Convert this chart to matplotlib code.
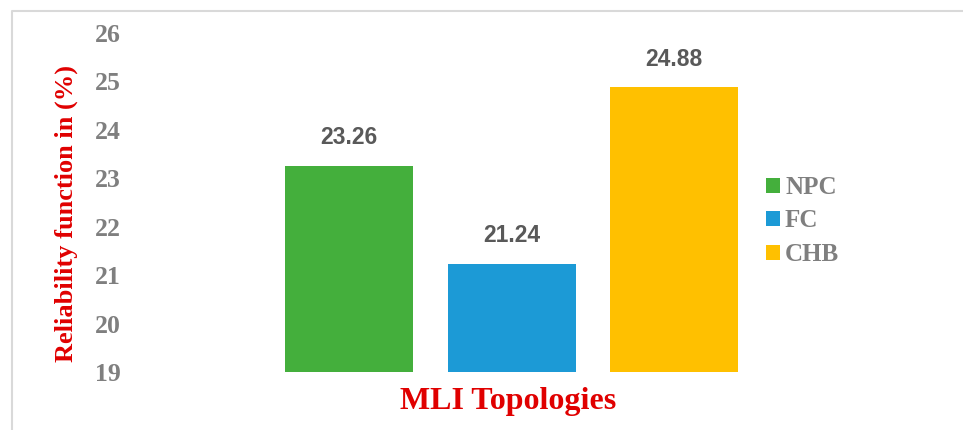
import matplotlib
matplotlib.use('Agg')
import matplotlib.pyplot as plt
from matplotlib.patches import Patch
from matplotlib.lines import Line2D

# Data
topologies = ['NPC', 'FC', 'CHB']
reliability = [23.26, 21.24, 24.88]
colors = ['#44AF3C', '#1C9AD6', '#FFC000']

W, H = 963, 430
fig = plt.figure(figsize=(W / 100, H / 100), dpi=100)

# axes placed in pixel terms to follow the reference layout
ax = fig.add_axes([130 / W, (H - 372) / H, (760 - 130) / W, (372 - 33) / H])

x = list(range(len(topologies)))
bars = ax.bar(x, reliability, width=0.788, color=colors, bottom=0)

ax.set_ylim(19, 26)
ax.set_xlim(-1.348, 2.529)
ax.set_yticks(range(19, 27))
ax.set_xticks([])
for s in ax.spines.values():
    s.set_visible(False)
ax.tick_params(axis='y', length=0, pad=6.5)
for lbl in ax.get_yticklabels():
    lbl.set_fontfamily('Liberation Serif')
    lbl.set_fontweight('bold')
    lbl.set_fontsize(18.5)
    lbl.set_color('#7F7F7F')

# value labels above bars
for xi, v in zip(x, reliability):
    ax.annotate(f'{v:.2f}', (xi, v), xytext=(0, 20), textcoords='offset points',
                ha='center', va='center', fontsize=16.5, fontweight='bold',
                fontfamily='Liberation Sans', color='#595959')

# axis titles
fig.text(66 / W, 1 - 213.5 / H, 'Reliability function in (%)', rotation=90,
         ha='center', va='center', fontsize=19, fontweight='bold',
         fontfamily='Liberation Serif', color='#E00000')
fig.text(508 / W, 1 - 401 / H, 'MLI Topologies', ha='center', va='center',
         fontsize=23, fontweight='bold', fontfamily='Liberation Serif', color='#E00000')

# legend
handles = [Patch(facecolor=c, edgecolor='none') for c in colors]
leg = fig.legend(handles, topologies, loc='center left', bbox_to_anchor=(766 / W, 1 - 221 / H),
                 frameon=False, borderpad=0, borderaxespad=0, handlelength=0.56,
                 handleheight=0.56, handletextpad=0.2, labelspacing=0.42,
                 prop={'family': 'Liberation Serif', 'weight': 'bold', 'size': 18})
for t in leg.get_texts():
    t.set_color('#7F7F7F')

# light frame around the chart (left and top edges visible)
fig.add_artist(Line2D([12 / W, 12 / W, 1], [0, 1 - 11 / H, 1 - 11 / H],
                      transform=fig.transFigure, color='#D9D9D9', lw=1.5))

fig.savefig('out.png', dpi=100)
